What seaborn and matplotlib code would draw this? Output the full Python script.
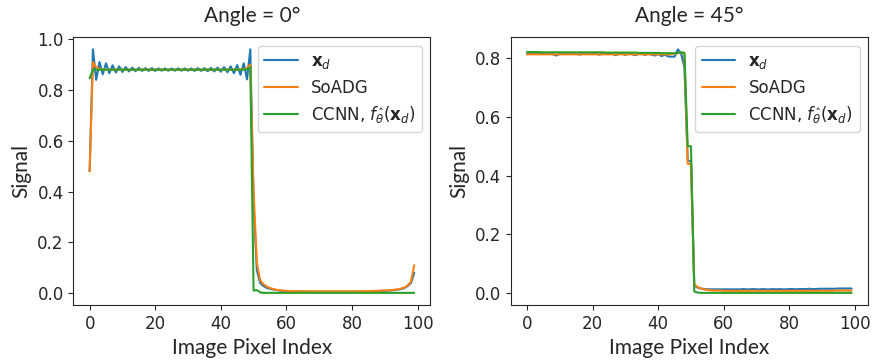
import matplotlib
matplotlib.use("Agg")
import matplotlib.pyplot as plt
import seaborn as sns
import pandas as pd

pixel_index = list(range(100))

# Angle = 0 deg
xd_0 = [0.48, 0.96, 0.84, 0.91, 0.862, 0.905, 0.866, 0.897, 0.869, 0.893,
        0.871, 0.890, 0.873, 0.888, 0.874, 0.887, 0.875, 0.886, 0.875, 0.886,
        0.875, 0.885, 0.876, 0.885, 0.876, 0.885, 0.876, 0.885, 0.876, 0.885,
        0.876, 0.885, 0.875, 0.886, 0.875, 0.886, 0.874, 0.887, 0.873, 0.888,
        0.872, 0.890, 0.870, 0.893, 0.866, 0.898, 0.860, 0.905, 0.842, 0.960,
        0.350, 0.090, 0.040, 0.028, 0.021, 0.017, 0.014, 0.012, 0.010, 0.009,
        0.008, 0.008, 0.007, 0.007, 0.007, 0.007, 0.006, 0.006, 0.006, 0.006,
        0.006, 0.006, 0.006, 0.006, 0.006, 0.006, 0.006, 0.006, 0.006, 0.006,
        0.006, 0.006, 0.006, 0.007, 0.007, 0.007, 0.007, 0.008, 0.008, 0.009,
        0.009, 0.010, 0.011, 0.012, 0.014, 0.016, 0.020, 0.028, 0.040, 0.080]
soadg_0 = [0.48, 0.91, 0.89, 0.882, 0.880, 0.880, 0.880, 0.880, 0.880, 0.880,
           0.880, 0.880, 0.880, 0.880, 0.880, 0.880, 0.880, 0.880, 0.880, 0.880,
           0.880, 0.880, 0.880, 0.880, 0.880, 0.880, 0.880, 0.880, 0.880, 0.880,
           0.880, 0.880, 0.880, 0.880, 0.880, 0.880, 0.880, 0.880, 0.880, 0.880,
           0.880, 0.880, 0.880, 0.880, 0.880, 0.880, 0.881, 0.882, 0.886, 0.900,
           0.400, 0.120, 0.050, 0.035, 0.026, 0.020, 0.016, 0.013, 0.011, 0.010,
           0.009, 0.008, 0.008, 0.008, 0.007, 0.007, 0.007, 0.007, 0.007, 0.007,
           0.007, 0.007, 0.007, 0.007, 0.007, 0.007, 0.007, 0.007, 0.007, 0.007,
           0.007, 0.007, 0.007, 0.008, 0.008, 0.008, 0.008, 0.009, 0.009, 0.010,
           0.010, 0.011, 0.012, 0.013, 0.015, 0.018, 0.022, 0.030, 0.045, 0.110]
ccnn_0 = [0.846, 0.880, 0.880, 0.880, 0.880, 0.880, 0.880, 0.880, 0.880, 0.880,
          0.880, 0.880, 0.880, 0.880, 0.880, 0.880, 0.880, 0.880, 0.880, 0.880,
          0.880, 0.880, 0.880, 0.880, 0.880, 0.880, 0.880, 0.880, 0.880, 0.880,
          0.880, 0.880, 0.880, 0.880, 0.880, 0.880, 0.880, 0.880, 0.880, 0.880,
          0.880, 0.880, 0.880, 0.880, 0.880, 0.880, 0.880, 0.880, 0.882, 0.890,
          0.010, 0.012, 0.003, 0.001, 0.001, 0.001, 0.001, 0.001, 0.001, 0.001,
          0.001, 0.001, 0.001, 0.001, 0.001, 0.001, 0.001, 0.001, 0.001, 0.001,
          0.001, 0.001, 0.001, 0.001, 0.001, 0.001, 0.001, 0.001, 0.001, 0.001,
          0.001, 0.001, 0.001, 0.001, 0.001, 0.001, 0.001, 0.001, 0.001, 0.001,
          0.001, 0.001, 0.001, 0.001, 0.001, 0.001, 0.001, 0.001, 0.001, 0.001]

# Angle = 45 deg
xd_45 = [0.815, 0.816, 0.815, 0.816, 0.814, 0.815, 0.816, 0.815, 0.813, 0.809,
         0.815, 0.816, 0.815, 0.814, 0.816, 0.815, 0.812, 0.816, 0.815, 0.814,
         0.816, 0.815, 0.812, 0.815, 0.816, 0.814, 0.815, 0.810, 0.815, 0.816,
         0.811, 0.815, 0.814, 0.810, 0.815, 0.814, 0.811, 0.815, 0.812, 0.809,
         0.814, 0.807, 0.812, 0.806, 0.805, 0.805, 0.830, 0.815, 0.770, 0.450,
         0.450, 0.025, 0.018, 0.015, 0.013, 0.012, 0.012, 0.012, 0.012, 0.012,
         0.012, 0.012, 0.012, 0.012, 0.012, 0.012, 0.013, 0.012, 0.012, 0.013,
         0.012, 0.012, 0.013, 0.012, 0.012, 0.013, 0.012, 0.013, 0.012, 0.012,
         0.013, 0.013, 0.012, 0.013, 0.013, 0.013, 0.014, 0.013, 0.013, 0.014,
         0.014, 0.014, 0.014, 0.014, 0.014, 0.015, 0.015, 0.015, 0.015, 0.015]
soadg_45 = [0.813, 0.813, 0.813, 0.813, 0.813, 0.813, 0.813, 0.813, 0.813, 0.813,
            0.813, 0.813, 0.813, 0.813, 0.813, 0.813, 0.813, 0.813, 0.813, 0.813,
            0.813, 0.813, 0.813, 0.813, 0.813, 0.813, 0.813, 0.813, 0.813, 0.813,
            0.813, 0.813, 0.813, 0.813, 0.813, 0.813, 0.813, 0.813, 0.813, 0.813,
            0.813, 0.813, 0.813, 0.813, 0.814, 0.815, 0.817, 0.820, 0.815, 0.440,
            0.440, 0.030, 0.020, 0.015, 0.012, 0.010, 0.009, 0.008, 0.008, 0.008,
            0.007, 0.007, 0.007, 0.007, 0.007, 0.007, 0.007, 0.007, 0.007, 0.007,
            0.007, 0.007, 0.007, 0.007, 0.007, 0.007, 0.007, 0.007, 0.007, 0.007,
            0.007, 0.007, 0.007, 0.007, 0.007, 0.007, 0.007, 0.007, 0.007, 0.007,
            0.007, 0.007, 0.007, 0.007, 0.008, 0.008, 0.008, 0.008, 0.008, 0.008]
ccnn_45 = [0.821, 0.821, 0.821, 0.821, 0.820, 0.820, 0.820, 0.820, 0.820, 0.820,
           0.820, 0.820, 0.820, 0.820, 0.820, 0.820, 0.820, 0.820, 0.820, 0.820,
           0.820, 0.820, 0.820, 0.820, 0.819, 0.819, 0.819, 0.819, 0.819, 0.819,
           0.819, 0.819, 0.819, 0.819, 0.818, 0.818, 0.818, 0.818, 0.818, 0.818,
           0.818, 0.817, 0.817, 0.817, 0.817, 0.817, 0.818, 0.820, 0.818, 0.500,
           0.500, 0.005, 0.001, 0.000, 0.000, 0.000, 0.000, 0.000, 0.000, 0.000,
           0.000, 0.000, 0.000, 0.000, 0.000, 0.000, 0.000, 0.000, 0.000, 0.000,
           0.000, 0.000, 0.000, 0.000, 0.000, 0.000, 0.000, 0.000, 0.000, 0.000,
           0.000, 0.000, 0.000, 0.000, 0.000, 0.000, 0.000, 0.000, 0.000, 0.000,
           0.000, 0.000, 0.000, 0.000, 0.000, 0.000, 0.000, 0.000, 0.000, 0.000]

labels = [r"$\mathbf{x}_d$", "SoADG", r"CCNN, $f_{\hat{\theta}}(\mathbf{x}_d)$"]
titles = ["Angle = 0°", "Angle = 45°"]

sns.set_style("ticks")
plt.rcParams["font.family"] = ["DejaVu Sans"]
plt.rcParams["font.size"] = 12
plt.rcParams["mathtext.fontset"] = "dejavusans"

fig, axes = plt.subplots(1, 2, figsize=(8.74, 3.61), dpi=100)
fig.subplots_adjust(left=0.084, right=0.993, top=0.897, bottom=0.155, wspace=0.225)

colors = ["#1f77b4", "#ff7f0e", "#2ca02c"]
panels = [(xd_0, soadg_0, ccnn_0), (xd_45, soadg_45, ccnn_45)]

for ax, series, title in zip(axes, panels, titles):
    for vals, lab, col in zip(series, labels, colors):
        df = pd.DataFrame({"pixel": pixel_index, "signal": vals})
        sns.lineplot(data=df, x="pixel", y="signal", ax=ax, color=col, label=lab, linewidth=1.5)
    ax.set_title(title, fontsize=15, family="Lato", pad=11)
    ax.set_xlabel("Image Pixel Index", fontsize=15, family="Lato")
    ax.set_ylabel("Signal", fontsize=15, family="Lato")
    ax.set_xticks([0, 20, 40, 60, 80, 100])
    ax.tick_params(labelsize=12)
    ax.legend(loc="upper right", fontsize=12, labelspacing=0.45)

axes[1].set_yticks([0.0, 0.2, 0.4, 0.6, 0.8])

fig.savefig("out.png", dpi=100)
